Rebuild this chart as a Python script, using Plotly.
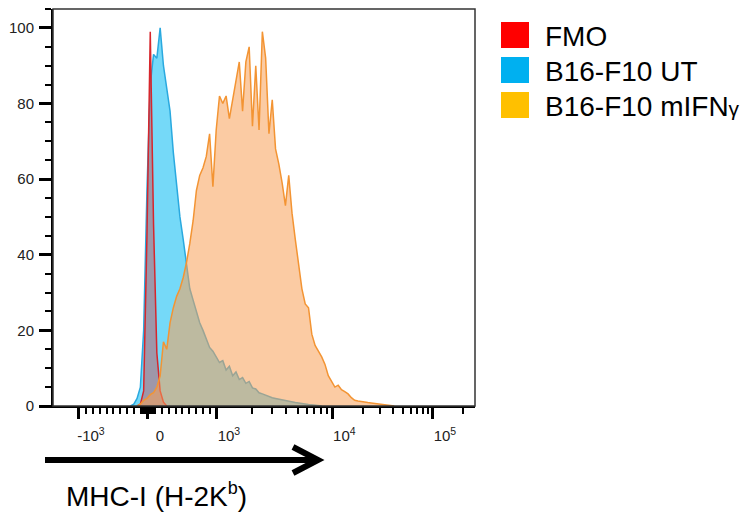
import math
import numpy as np
import plotly.graph_objects as go

# histogram counts (% of max) per display channel, 128 channels across the axis
FMO_START = 25
FMO = [0, 0.5, 4, 45, 99, 48, 14, 4, 1, 0]

UT_START = 23
UT = [0, 0.5, 2, 5, 20, 57, 85, 93, 92, 100, 90, 84, 78, 67, 58, 50, 44, 38, 31, 28,
      25, 22, 20, 18, 15.5, 14.5, 13, 11.5, 12, 9.5, 10.5, 8, 9, 7, 7.5, 6, 6.5, 4.8,
      4.5, 3.5, 3.2, 2.8, 2.5, 2.2, 2, 1.8, 1.5, 1.4, 1.2, 1, 0.9, 0.8, 0.6, 0.5, 0.4,
      0.3, 0.2, 0.1, 0]

IFN_START = 25
IFN = [0, 0.5, 1.5, 2, 3, 3.5, 5, 8, 17, 15, 22, 26, 29, 31, 34, 38, 43, 49, 57, 61,
       63, 66, 72, 58, 73, 82, 80, 82, 76, 81, 86, 91, 78, 91, 95, 74, 90, 73, 99, 92,
       72, 81, 68, 64, 59, 53, 61, 51, 44, 38, 31, 27, 26, 19, 16, 14.5, 13, 11, 8, 6.5,
       5, 5.5, 4.3, 3.8, 3.2, 2.2, 1.5, 1.3, 1.1, 1, 0.9, 0.8, 0.7, 0.6, 0.5, 0.4, 0.3,
       0.2, 0]

MAJOR_VALS = [-1000, 0, 1000, 1e4, 1e5]
MAJOR_TEXT = ["-10<sup>3</sup>", "0", "10<sup>3</sup>", "10<sup>4</sup>", "10<sup>5</sup>"]
MINOR_VALS = ([s * m for s in (-1, 1) for m in range(10, 100, 10)]
              + [s * m for s in (-1, 1) for m in range(100, 1000, 100)]
              + list(range(2000, 10000, 1000))
              + list(range(20000, 100000, 10000))
              + [200000])

LEGEND_LABELS = ["FMO", "B16-F10 UT", "B16-F10 mIFN<span style='font-size:21px'>γ</span>"]
LEGEND_COLORS = ["#FF0000", "#00B0F0", "#FFC000"]
XLABEL = "MHC-I (H-2K<sup><span style='font-size:18px'>b</span></sup>)"


# biexponential-ish display scale: linear inside +-1000, log outside
def to_channel(v):
    zero, lin, d34, d45 = 28.8, 20.93, 35.0, 30.5
    if abs(v) <= 1000:
        return zero + v * lin / 1000
    if v < 0:
        return zero - lin - d34 * math.log10(-v / 1000)
    if v <= 1e4:
        return zero + lin + d34 * math.log10(v / 1000)
    return zero + lin + d34 + d45 * math.log10(v / 1e4)


# the page body adds an 8px margin, so the figure is drawn 8px smaller
OFF = 8
W, H = 754 - OFF, 513 - OFF
L, R, T, B = 53, 475, 9, 406


def px(x):
    return (x - L) / (R - L)


def py(y):
    return (B - y) / (B - T)


FONT = "Liberation Sans, Arial, sans-serif"

fig = go.Figure()

series = [
    (UT_START, UT, "#2AA9DF", "rgba(45,198,245,0.66)"),
    (FMO_START, FMO, "#D7262C", "rgba(215,60,60,0.42)"),
    (IFN_START, IFN, "#F39433", "rgba(247,160,88,0.55)"),
]
for start, counts, line_col, fill_col in series:
    xs = start + np.arange(len(counts)) + 0.5
    fig.add_trace(go.Scatter(x=xs, y=counts, mode="lines", fill="tozeroy",
                             fillcolor=fill_col, line=dict(color=line_col, width=1.5),
                             showlegend=False, hoverinfo="skip"))

fig.update_xaxes(
    range=[0, 128], showgrid=False, zeroline=False,
    showline=True, linecolor="black", linewidth=2,
    tickmode="array", tickvals=[to_channel(v) for v in MAJOR_VALS], ticktext=MAJOR_TEXT,
    ticks="outside", ticklen=11, tickwidth=3, tickcolor="black",
    ticklabelshift=12, ticklabelstandoff=4,
    tickfont=dict(family=FONT, size=15, color="#222"),
    minor=dict(tickmode="array", tickvals=[to_channel(v) for v in MINOR_VALS],
               ticks="outside", ticklen=6, tickwidth=1.5, tickcolor="black"),
)
fig.update_yaxes(
    range=[0, 105], showgrid=False, zeroline=False,
    showline=True, linecolor="black", linewidth=2,
    tickmode="array", tickvals=[0, 20, 40, 60, 80, 100],
    ticks="outside", ticklen=12, tickwidth=2.5, tickcolor="black",
    ticklabelstandoff=2,
    tickfont=dict(family=FONT, size=15, color="#222"),
    minor=dict(dtick=5, ticks="outside", ticklen=6, tickwidth=1.5, tickcolor="black"),
)

shapes = [
    dict(type="rect", xref="paper", yref="paper", x0=0, x1=1, y0=0, y1=1,
         line=dict(color="#333", width=1.5)),
    dict(type="line", xref="paper", yref="paper", x0=px(45), x1=px(314),
         y0=py(460), y1=py(460), line=dict(color="black", width=6)),
    dict(type="path", xref="paper", yref="paper",
         path=f"M{px(293)},{py(447)} L{px(318)},{py(460)} L{px(293)},{py(473)}",
         line=dict(color="black", width=6)),
]
annotations = [
    dict(text=XLABEL, xref="paper", yref="paper", x=px(64), y=py(495),
         xanchor="left", yanchor="middle", showarrow=False,
         font=dict(family=FONT, size=28, color="black")),
]
for i, (lab, col) in enumerate(zip(LEGEND_LABELS, LEGEND_COLORS)):
    cy = 35 + 35 * i
    shapes.append(dict(type="rect", xref="paper", yref="paper",
                       x0=px(501), x1=px(529), y0=py(cy - 13), y1=py(cy + 13),
                       fillcolor=col, line=dict(width=0)))
    annotations.append(dict(text=lab, xref="paper", yref="paper", x=px(543), y=py(cy + 1),
                            xanchor="left", yanchor="middle", showarrow=False,
                            font=dict(family=FONT, size=28, color="black")))

fig.update_layout(
    width=W, height=H, autosize=False,
    margin=dict(l=L - OFF, r=754 - R, t=T - OFF, b=513 - B),
    paper_bgcolor="white", plot_bgcolor="white",
    shapes=shapes, annotations=annotations,
)

fig.write_html("out.html")
